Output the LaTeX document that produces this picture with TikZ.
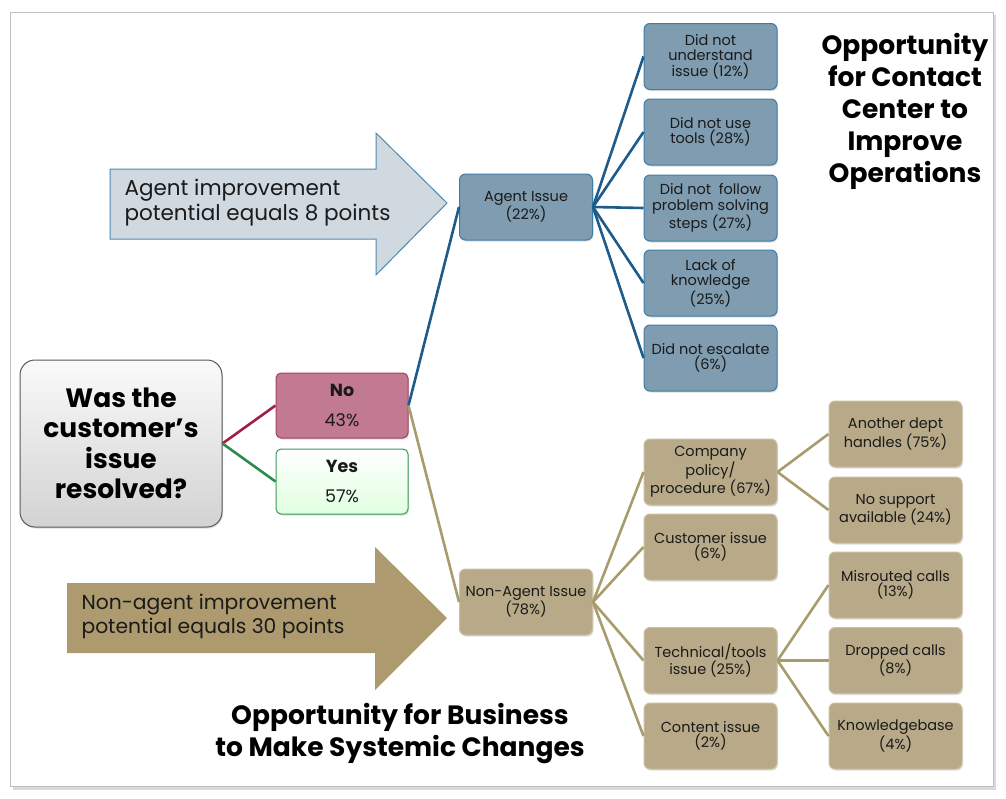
\documentclass[tikz,border=0pt]{standalone}
\usepackage{fontspec}
\setmainfont{Poppins}
\usetikzlibrary{shadows}

\definecolor{agentfill}{HTML}{7F9CB0}
\definecolor{agentedge}{HTML}{3F7DA6}
\definecolor{agentlink}{HTML}{1D5B8A}
\definecolor{tanfill}{HTML}{B8AA88}
\definecolor{tanedge}{HTML}{CBC0A2}
\definecolor{tanlink}{HTML}{A99C6C}
\definecolor{nofill}{HTML}{C27A93}
\definecolor{noedge}{HTML}{A8405F}
\definecolor{nolink}{HTML}{A0204A}
\definecolor{yesedge}{HTML}{3A9A5A}
\definecolor{yeslink}{HTML}{2E8B50}
\definecolor{arrowblue}{HTML}{D0D9E0}
\definecolor{arrowblueedge}{HTML}{4F8AB0}
\definecolor{arrowtan}{HTML}{AD9B6F}
\definecolor{inktext}{HTML}{1A1A1A}

\begin{document}
\begin{tikzpicture}[x=1pt, y=-1pt,
    box/.style={rectangle, rounded corners=6pt, minimum width=133pt, minimum height=66pt,
        inner sep=1pt, align=center, text=inktext, font=\fontsize{14.5}{15.5}\selectfont,
        drop shadow={opacity=0.25, shadow xshift=1pt, shadow yshift=-1.5pt}},
    agentbox/.style={box, fill=agentfill, draw=agentedge, line width=1pt},
    tanbox/.style={box, fill=tanfill, draw=tanedge, line width=1pt},
    agentwire/.style={agentlink, line width=2.6pt},
    tanwire/.style={tanlink, line width=2.6pt},
    bigtitle/.style={align=center, font=\fontsize{26.5}{32}\selectfont\bfseries, text=black}]

    \useasboundingbox (0,0) rectangle (1006,798);

    % ==========================================
    % 0. PAGE FRAME
    % ==========================================
    \fill[gray!30] (13,15) rectangle (996,790);
    \draw[gray!50, fill=white] (10,12) rectangle (993,786);

    % ==========================================
    % 1. ROOT QUESTION AND YES / NO
    % ==========================================
    \node[rectangle, rounded corners=15pt, minimum width=202pt, minimum height=167pt,
        draw=gray!70!black, line width=1pt, top color=gray!4, bottom color=gray!35,
        align=center, font=\fontsize{26.5}{30.5}\selectfont\bfseries,
        drop shadow={opacity=0.25, shadow xshift=1pt, shadow yshift=-1.5pt}]
        (question) at (121,443.5) {Was the\\customer’s\\issue\\resolved?};

    \node[rectangle, rounded corners=5pt, minimum width=132pt, minimum height=65pt,
        fill=nofill, draw=noedge, line width=1pt, align=center,
        font=\fontsize{17.5}{30}\selectfont, text=inktext,
        drop shadow={opacity=0.25, shadow xshift=1pt, shadow yshift=-1.5pt}]
        (no) at (342,405.5) {\textbf{No}\\43\%};
    \node[rectangle, rounded corners=5pt, minimum width=132pt, minimum height=65pt,
        draw=yesedge, line width=1pt, top color=white, bottom color=green!12, align=center,
        font=\fontsize{17.5}{30}\selectfont, text=inktext,
        drop shadow={opacity=0.25, shadow xshift=1pt, shadow yshift=-1.5pt}]
        (yes) at (342,481.5) {\textbf{Yes}\\57\%};

    \draw[nolink, line width=2.6pt] (question.east) -- (no.west);
    \draw[yeslink, line width=2.6pt] (question.east) -- (yes.west);

    % ==========================================
    % 2. AGENT BRANCH
    % ==========================================
    \node[agentbox] (agent) at (526,207) {Agent Issue\\(22\%)};

    \node[agentbox] (understand) at (710.5,56.5) {Did not\\understand\\issue (12\%)};
    \node[agentbox] (tools)      at (710.5,132)  {Did not use\\tools (28\%)};
    \node[agentbox] (steps)      at (710.5,208)  {Did not~ follow\\problem solving\\steps (27\%)};
    \node[agentbox] (knowledge)  at (710.5,283)  {Lack of\\knowledge\\(25\%)};
    \node[agentbox] (escalate)   at (710.5,358)  {Did not escalate\\(6\%)};

    \draw[agentwire] (no.east) -- (agent.west);
    \foreach \leaf in {understand, tools, steps, knowledge, escalate}
        \draw[agentwire] (agent.east) -- (\leaf.west);

    % ==========================================
    % 3. NON-AGENT BRANCH
    % ==========================================
    \node[tanbox] (nonagent) at (526,602) {Non-Agent Issue\\(78\%)};

    \node[tanbox] (policy)    at (710.5,472)   {Company\\policy/\\procedure (67\%)};
    \node[tanbox] (customer)  at (710.5,547)   {Customer issue\\(6\%)};
    \node[tanbox] (technical) at (710.5,660.5) {Technical/tools\\issue (25\%)};
    \node[tanbox] (content)   at (710.5,736)   {Content issue\\(2\%)};

    \node[tanbox] (otherdept) at (895.5,434)   {Another dept\\handles (75\%)};
    \node[tanbox] (nosupport) at (895.5,510)   {No support\\available (24\%)};
    \node[tanbox] (misrouted) at (895.5,585)   {Misrouted calls\\(13\%)};
    \node[tanbox] (dropped)   at (895.5,660.5) {Dropped calls\\(8\%)};
    \node[tanbox] (kbase)     at (895.5,736)   {Knowledgebase\\(4\%)};

    \draw[tanwire] (no.east) -- (nonagent.west);
    \foreach \leaf in {policy, customer, technical, content}
        \draw[tanwire] (nonagent.east) -- (\leaf.west);
    \draw[tanwire] (policy.east) -- (otherdept.west);
    \draw[tanwire] (policy.east) -- (nosupport.west);
    \foreach \leaf in {misrouted, dropped, kbase}
        \draw[tanwire] (technical.east) -- (\leaf.west);

    % ==========================================
    % 4. IMPROVEMENT ARROWS
    % ==========================================
    \draw[fill=arrowblue, draw=arrowblueedge, line width=1pt]
        (110,169) -- (376,169) -- (376,133) -- (447,203) -- (376,275) -- (376,239) -- (110,239) -- cycle;
    \node[anchor=west, align=left, text=inktext, font=\fontsize{21.5}{25}\selectfont]
        (agentgain) at (121,203) {Agent improvement\\potential equals 8 points};

    \fill[arrowtan]
        (67,583) -- (375,583) -- (375,547) -- (447,618) -- (375,690) -- (375,653) -- (67,653) -- cycle;
    \node[anchor=west, align=left, text=inktext, font=\fontsize{20.3}{24}\selectfont]
        (nonagentgain) at (78,616) {Non-agent improvement\\potential equals 30 points};

    % ==========================================
    % 5. OPPORTUNITY TITLES
    % ==========================================
    \node[bigtitle] (ccopp) at (905,111) {Opportunity\\for Contact\\Center to\\Improve\\Operations};
    \node[bigtitle] (bizopp) at (400,734) {Opportunity for Business\\to Make Systemic Changes};

\end{tikzpicture}
\end{document}
